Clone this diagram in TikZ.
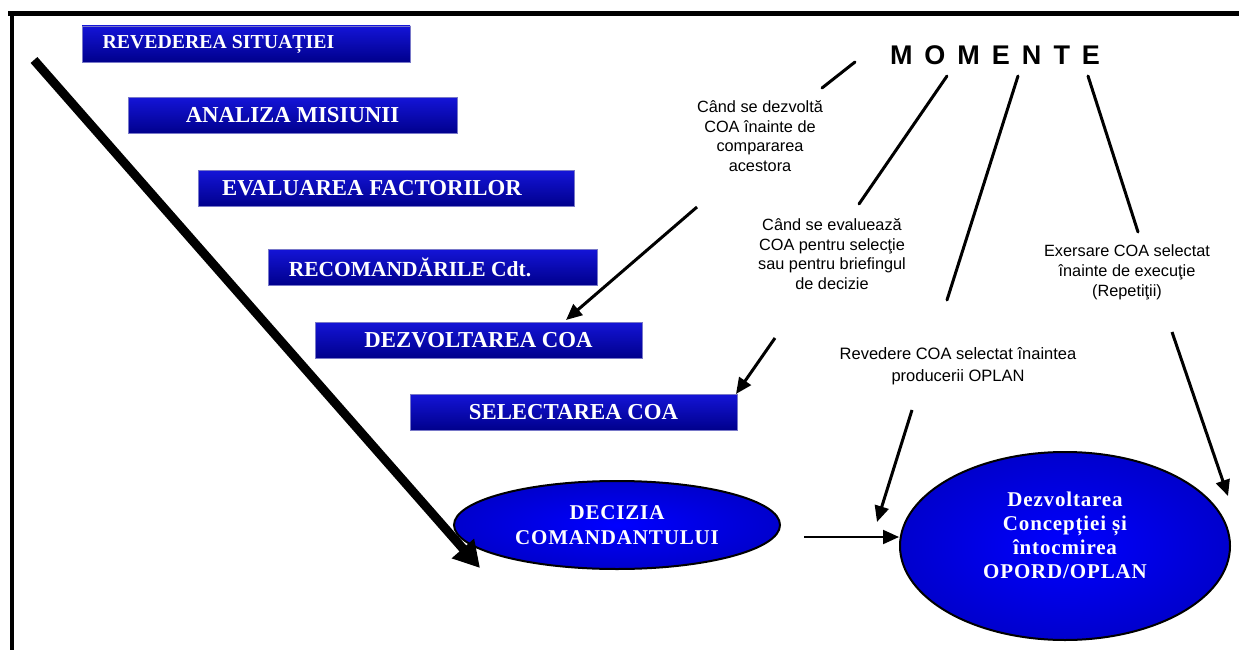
\documentclass[tikz,border=0pt]{standalone}
\usepackage{fontspec}
\setmainfont{Liberation Serif}
\newfontfamily\arialf{Liberation Sans}
\newfontfamily\ovalfont[LetterSpace=4]{Liberation Serif}
\usetikzlibrary{arrows.meta,calc,shapes.geometric}
\definecolor{boxtop}{RGB}{20,20,215}
\definecolor{boxblue}{RGB}{0,0,255}
\definecolor{boxdark}{RGB}{0,0,140}
\definecolor{boxedge}{RGB}{120,120,200}
\definecolor{ovalblue}{RGB}{0,0,255}
\definecolor{ovaldark}{RGB}{0,0,205}
\begin{document}
\begin{tikzpicture}[x=1pt,y=-1pt,
  stagebox/.style={rectangle, minimum height=36pt, inner sep=0pt,
    top color=boxtop, middle color=boxblue, bottom color=boxdark,
    draw=boxedge, line width=0.8pt, text=white,
    font=\bfseries\fontsize{22.8}{22.8}\selectfont},
  oval/.style={ellipse, inner sep=0pt, draw=black, line width=2pt,
    inner color=ovalblue, outer color=ovaldark, text=white, align=center,
    font=\ovalfont\bfseries\fontsize{21}{24.5}\selectfont},
  ovaltext/.style={text=white, align=center, inner sep=0pt,
    font=\ovalfont\bfseries\fontsize{21}{24}\selectfont},
  note/.style={align=center, text=black, inner sep=0pt,
    font=\arialf\fontsize{16.3}{19.5}\selectfont},
  conn/.style={line width=3pt, line cap=round},
  tip/.style={-{Triangle[length=16pt,width=14pt]}},
  frame/.style={line width=5pt}
]
\useasboundingbox (0,0) rectangle (1239,650);
\fill[white] (0,0) rectangle (1239,650);

% frame
\draw[frame] (8,14) -- (1239,14);
\draw[line width=4pt] (12,12) -- (12,650);

% stage boxes
\node[stagebox, minimum width=328pt, font=\bfseries\fontsize{19.8}{19.8}\selectfont] (b1) at (246,44) {REVEDEREA SITUAȚIEI\hspace{55pt}\mbox{}};
\node[stagebox, minimum width=329pt] (b2) at (292.5,115.5) {ANALIZA MISIUNII};
\node[stagebox, minimum width=376pt] (b3) at (386,188.5) {EVALUAREA FACTORILOR\hspace{28pt}\mbox{}};
\node[stagebox, minimum width=329pt, font=\bfseries\fontsize{21.5}{21.5}\selectfont] (b4) at (432.5,267) {RECOMANDĂRILE Cdt.\hspace{45pt}\mbox{}};
\node[stagebox, minimum width=327pt] (b5) at (478.5,340) {DEZVOLTAREA COA};
\node[stagebox, minimum width=327pt] (b6) at (573.5,412) {SELECTAREA COA};

% ovals
\node[oval, minimum width=326pt, minimum height=88pt] (dec) at (617,525) {DECIZIA\\COMANDANTULUI};
\node[oval, minimum width=330pt, minimum height=188pt] (big) at (1065,546) {};
\node[ovaltext] (bigtext) at ($(big.center)+(0,-11)$) {Dezvoltarea\\Concepției și\\întocmirea\\OPORD/OPLAN};

% big arrow
\coordinate (bs) at (34,60);
\coordinate (be) at (480,568);
\draw[line width=9pt, -{Triangle[length=26pt,width=28pt]}] (bs) -- (be);

% decision -> plan
\coordinate (da) at ($(dec.east)+(23,12)$);
\draw[line width=2pt, tip] (da) -- (da -| big.west);

% MOMENTE
\node[font=\arialf\bfseries\fontsize{27}{27}\selectfont, inner sep=0pt] (mom) at (995,55)
  {M\hspace{12pt}O\hspace{12pt}M\hspace{12pt}E\hspace{12pt}N\hspace{12pt}T\hspace{12pt}E};

% notes
\node[note] (t1) at (760,136) {Când se dezvoltă\\COA înainte de\\compararea\\acestora};
\node[note] (t2) at (832,254) {Când se evaluează\\COA pentru selecţie\\sau pentru briefingul\\de decizie};
\node[note, font=\arialf\fontsize{16.3}{20}\selectfont] (t3) at (1127,272) {Exersare COA selectat\\înainte de execuţie\\(Repetiţii)};
\node[note, font=\arialf\fontsize{16.5}{22}\selectfont] (t4) at (958,366) {Revedere COA selectat înaintea\\producerii OPLAN};

% lines from MOMENTE
\coordinate (m0a) at (855,62);  \coordinate (m0b) at (822,88);
\coordinate (m1a) at (947,76);  \coordinate (m1b) at (859,204);
\coordinate (m2a) at (1018,76); \coordinate (m2b) at (947,300);
\coordinate (m3a) at (1088,76); \coordinate (m3b) at (1138,232);
\draw[conn] (m0a) -- (m0b);
\draw[conn] (m1a) -- (m1b);
\draw[conn] (m2a) -- (m2b);
\draw[conn] (m3a) -- (m3b);

% arrows from notes
\coordinate (a1s) at (697,207);  \coordinate (a1e) at (566,320);
\coordinate (a2s) at (775,338);  \coordinate (a2e) at (736,394);
\coordinate (a3s) at (912,410);  \coordinate (a3e) at (877,522);
\coordinate (a4s) at (1172,332); \coordinate (a4e) at (1228,496);
\draw[conn, line cap=butt, tip] (a1s) -- (a1e);
\draw[conn, line cap=butt, tip] (a2s) -- (a2e);
\draw[conn, line cap=butt, tip] (a3s) -- (a3e);
\draw[conn, line cap=butt, tip] (a4s) -- (a4e);
\end{tikzpicture}
\end{document}
